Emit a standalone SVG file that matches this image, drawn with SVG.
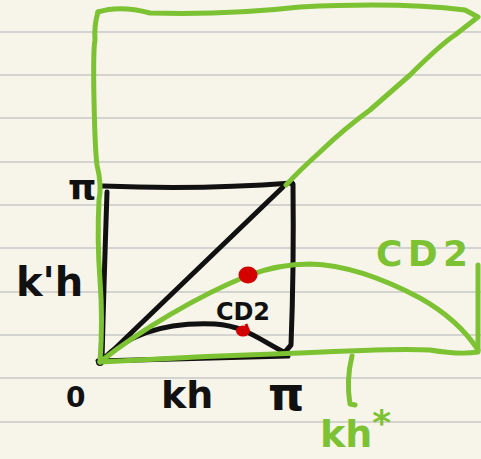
<svg xmlns="http://www.w3.org/2000/svg" width="481" height="459" viewBox="0 0 481 459">
<style>
.rule{stroke:#d3d3d0;stroke-width:2}
.blk{fill:none;stroke:#111;stroke-width:5;stroke-linecap:round;stroke-linejoin:round}
.grn{fill:none;stroke:#7cc232;stroke-width:5;stroke-linecap:round;stroke-linejoin:round}
.tb{font-family:"DejaVu Sans",sans-serif;font-weight:bold;fill:#111}
.tg{font-family:"DejaVu Sans",sans-serif;font-weight:bold;fill:#7cc232}
</style>
<rect width="481" height="459" fill="#f7f5ea"/>
<g id="ruled">
<line class="rule" x1="0" y1="32" x2="481" y2="32"/>
<line class="rule" x1="0" y1="75" x2="481" y2="75"/>
<line class="rule" x1="0" y1="118" x2="481" y2="118"/>
<line class="rule" x1="0" y1="162" x2="481" y2="162"/>
<line class="rule" x1="0" y1="205" x2="481" y2="205"/>
<line class="rule" x1="0" y1="248" x2="481" y2="248"/>
<line class="rule" x1="0" y1="292" x2="481" y2="292"/>
<line class="rule" x1="0" y1="335" x2="481" y2="335"/>
<line class="rule" x1="0" y1="378" x2="481" y2="378"/>
<line class="rule" x1="0" y1="422" x2="481" y2="422"/>
</g>
<g id="square">
<path class="blk" d="M103,186 Q200,190 292,183"/>
<path class="blk" d="M293,184 Q294,270 291,345 L285,352"/>
<path class="blk" d="M107,192 Q104,280 102,360"/>
<path class="blk" d="M103,360 L283,187"/>
<path class="blk" d="M102,360 C130,332 170,322 215,324 C245,326 260,340 284,352"/>
<path class="blk" d="M98,361 L288,356"/>
<circle cx="100" cy="362" r="4" fill="#111"/>
</g>
<g id="connectors">
<path class="grn" d="M98,12 Q120,5 150,13 Q230,15 300,7 Q400,2 465,10 L478,17 L455,35 Q440,45 410,75 L370,110 Q345,128 320,152 Q300,170 286,185"/>
<path class="grn" d="M98,12 Q94,25 95,40 Q93,50 94,100 Q95,150 97,165 Q102,185 99,200 Q97,240 100,280 Q103,320 100,362"/>
<path class="grn" d="M100,362 C140,330 200,295 247,276 C270,267 290,264 310,264 C350,265 390,282 420,298 C445,312 465,330 478,350"/>
<path class="grn" d="M100,362 Q200,356 300,353 Q400,348 430,350 Q460,355 478,352 L478,265"/>
<path class="grn" d="M352,356 Q346,380 350,404 L355,405"/>
</g>
<g id="points">
<ellipse cx="248" cy="275" rx="9.5" ry="8.5" fill="#d40000"/>
<ellipse cx="243" cy="331" rx="7" ry="5.5" fill="#d40000"/>
<path d="M246,324 L248,330" stroke="#d40000" stroke-width="3"/>
</g>
<g id="labels">
<text class="tb" x="68" y="200" font-size="36">π</text>
<text class="tb" x="16" y="296" font-size="40">k'h</text>
<text class="tb" x="66" y="407" font-size="28">0</text>
<text class="tb" x="161" y="408" font-size="38">kh</text>
<text class="tb" x="268" y="410" font-size="46">π</text>
<text class="tb" x="216" y="320" font-size="24" textLength="54">CD2</text>
<text class="tg" x="376" y="266" font-size="36" textLength="92">CD2</text>
<text class="tg" x="320" y="447" font-size="38">kh<tspan dy="-12" font-size="36">*</tspan></text>
</g>
</svg>
